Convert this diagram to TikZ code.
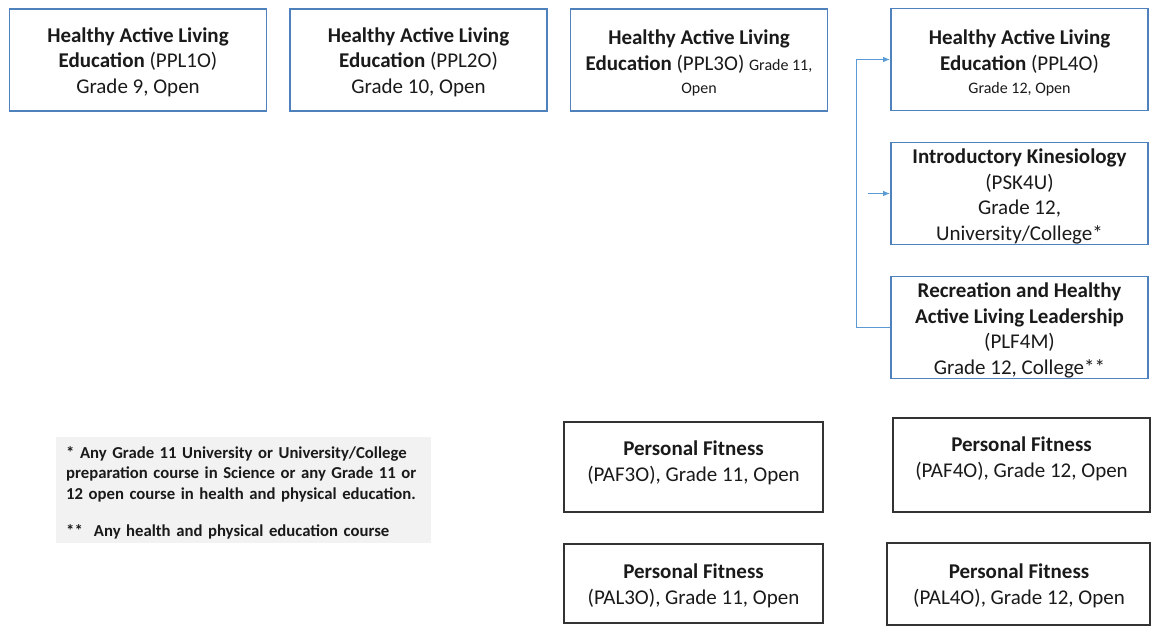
\documentclass[tikz,border=0pt]{standalone}
\usepackage{fontspec}
\setmainfont{Carlito}
\usetikzlibrary{arrows.meta}
\definecolor{boxblue}{HTML}{4F81BD}
\definecolor{arrblue}{HTML}{5B9BD5}
\definecolor{notegray}{HTML}{F2F2F2}
\definecolor{txt}{HTML}{1A1A1A}
\definecolor{fitline}{HTML}{333333}
\newcommand{\smalltxt}{\fontsize{16}{22.5}\selectfont}
\begin{document}
\begin{tikzpicture}[x=1pt,y=-1pt,
  course/.style={draw=boxblue, line width=1.6pt, fill=white, inner sep=0pt,
    minimum width=257pt, minimum height=102pt},
  fitbox/.style={draw=fitline, line width=1.4pt, fill=white, inner sep=0pt},
  btext/.style={text=txt, align=center, inner sep=0pt, font=\fontsize{21}{25.5}\selectfont},
  notebox/.style={fill=notegray, anchor=north west, inner sep=0pt,
    minimum width=375pt, minimum height=106pt},
  notetext/.style={text=txt, align=left, anchor=west, inner sep=0pt, text width=360pt,
    font=\bfseries\fontsize{16.7}{20.5}\selectfont},
  link/.style={draw=arrblue, line width=1.3pt},
  tip/.style={-{Latex[length=7pt,width=5.5pt]}}
]
\useasboundingbox (0,0) rectangle (1155,628);

\node[course] (b1) at (138,60) {};
\node[btext] (b1t) at (138,62) {\textbf{Healthy Active Living}\\\textbf{Education} (PPL1O)\\Grade 9, Open};
\node[course] (b2) at (418.5,60) {};
\node[btext] (b2t) at (418.5,62) {\textbf{Healthy Active Living}\\\textbf{Education} (PPL2O)\\Grade 10, Open};
\node[course] (b3) at (699,60) {};
\node[btext] (b3t) at (699,63) {\textbf{Healthy Active Living}\\\textbf{Education} (PPL3O)~{\smalltxt Grade 11,}\\[-2pt]{\smalltxt Open}};
\node[course] (b4) at (1019.5,59.5) {};
\node[btext] (b4t) at (1019.5,63) {\textbf{Healthy Active Living}\\\textbf{Education} (PPL4O)\\[-2pt]{\smalltxt Grade 12, Open}};
\node[course] (b5) at (1019.5,193.5) {};
\node[btext] (b5t) at (1019.5,196.5) {\textbf{Introductory Kinesiology}\\(PSK4U)\\Grade 12,\\University/College*};
\node[course] (b6) at (1019.5,327.5) {};
\node[btext] (b6t) at (1019.5,330.5) {\textbf{Recreation and Healthy}\\\textbf{Active Living Leadership}\\(PLF4M)\\Grade 12, College**};

\node[fitbox, minimum width=259pt, minimum height=90pt] (f1) at (693.5,467) {};
\node[btext] (f1t) at (693.5,463) {\textbf{Personal Fitness}\\(PAF3O), Grade 11, Open};
\node[fitbox, minimum width=257pt, minimum height=94pt] (f2) at (1021.5,465) {};
\node[btext] (f2t) at (1021.5,459) {\textbf{Personal Fitness}\\(PAF4O), Grade 12, Open};
\node[fitbox, minimum width=259pt, minimum height=79pt] (f3) at (693.5,583.5) {};
\node[btext] (f3t) at (693.5,586) {\textbf{Personal Fitness}\\(PAL3O), Grade 11, Open};
\node[fitbox, minimum width=263pt, minimum height=82pt] (f4) at (1018.5,584) {};
\node[btext] (f4t) at (1019,586) {\textbf{Personal Fitness}\\(PAL4O), Grade 12, Open};

\node[notebox] (n) at (56,437) {};
\node[notetext] (nt) at (66,493) {* Any Grade 11 University or University/College\\preparation course in Science or any Grade 11 or\\12 open course in health and physical education.\\[17pt]**\ \ Any health and physical education course};

\draw[link, tip] (b6.west) -- ++(-34,0) |- (b4.west);
\coordinate (m) at (868,193.5);
\draw[link, tip] (m) -- (b5.west);
\end{tikzpicture}
\end{document}
